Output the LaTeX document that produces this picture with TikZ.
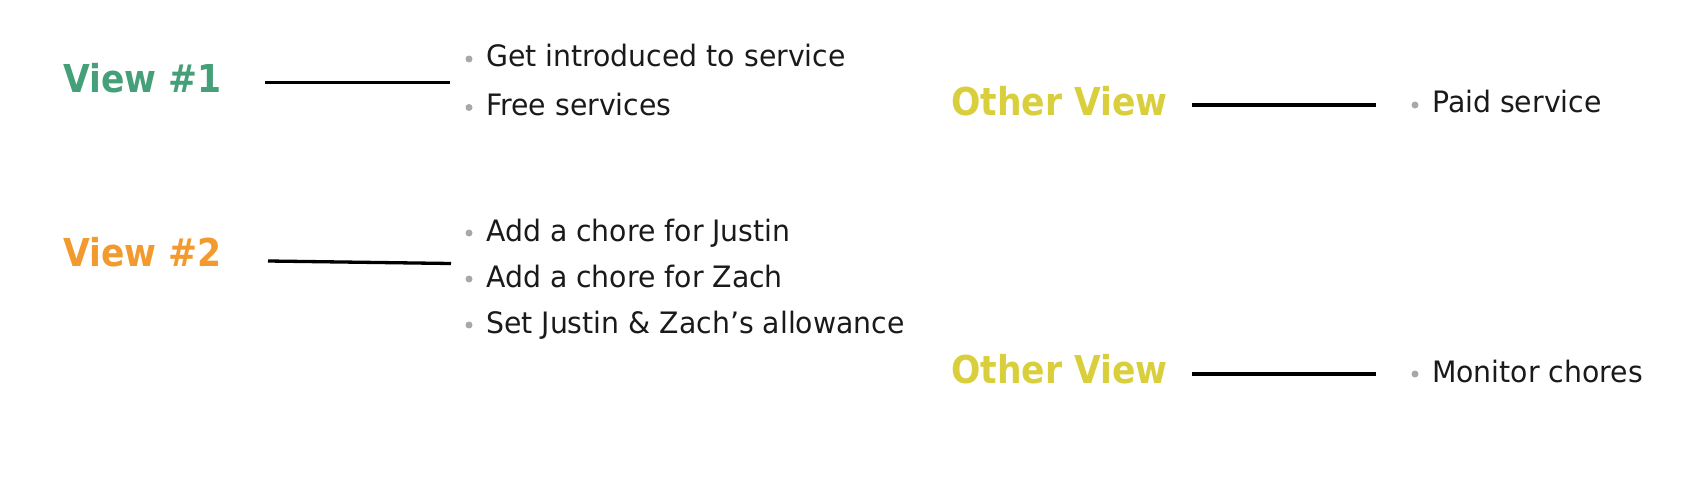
\documentclass[tikz,border=0pt]{standalone}
\usepackage{fontspec}
\setmainfont{DejaVu Sans}[FakeStretch=0.96]
\newfontfamily\headfont{DejaVu Sans Bold}[FakeStretch=0.9]
\definecolor{vgreen}{HTML}{45A07A}
\definecolor{vorange}{HTML}{F39A2E}
\definecolor{vyellow}{HTML}{D9CF3C}
\definecolor{bulletgray}{HTML}{A8A8A8}
\definecolor{txt}{HTML}{1A1A1A}
\begin{document}
\begin{tikzpicture}[x=1pt,y=-1pt,
  head/.style={anchor=base west,inner sep=0pt,font=\headfont\fontsize{38.4}{44}\selectfont},
  item/.style={anchor=base west,inner sep=0pt,text=txt,font=\fontsize{29.5}{34}\selectfont},
  link/.style={line width=3.3pt,black},
  dot/.style={circle,fill=bulletgray,inner sep=0pt,minimum size=7pt}]
\useasboundingbox (0,0) rectangle (1708,500);
% View 1
\node[head,text=vgreen] (v1) at (63,93) {View \#1};
\coordinate (l1a) at (265,82.5);
\coordinate (l1b) at (450,82.5);
\draw[link] (l1a) -- (l1b);
\node[dot] (b11) at (469,59) {};
\node[item] (t11) at (486,67) {Get introduced to service};
\node[dot] (b12) at (469,107.5) {};
\node[item] (t12) at (486,115.5) {Free services};
% Other view 1
\node[head,text=vyellow] (o1) at (951,116) {Other View};
\coordinate (l2a) at (1192,105);
\coordinate (l2b) at (1376,105);
\draw[link] (l2a) -- (l2b);
\node[dot] (b21) at (1415,105) {};
\node[item] (t21) at (1432,113) {Paid service};
% View 2
\node[head,text=vorange] (v2) at (63,266) {View \#2};
\coordinate (l3a) at (268,261);
\coordinate (l3b) at (451,263.5);
\draw[link] (l3a) -- (l3b);
\node[dot] (b31) at (469,233) {};
\node[item] (t31) at (486,241) {Add a chore for Justin};
\node[dot] (b32) at (469,279) {};
\node[item] (t32) at (486,287) {Add a chore for Zach};
\node[dot] (b33) at (469,325) {};
\node[item] (t33) at (486,333) {Set Justin \& Zach’s allowance};
% Other view 2
\node[head,text=vyellow] (o2) at (951,383) {Other View};
\coordinate (l4a) at (1192,374);
\coordinate (l4b) at (1376,374);
\draw[link] (l4a) -- (l4b);
\node[dot] (b41) at (1415,374) {};
\node[item] (t41) at (1432,382) {Monitor chores};
\end{tikzpicture}
\end{document}
